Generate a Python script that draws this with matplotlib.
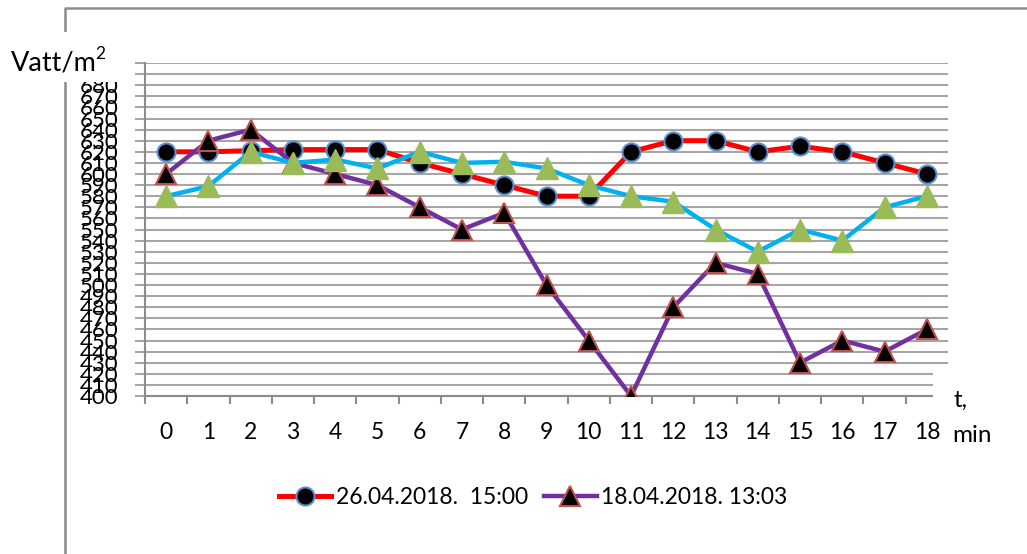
import matplotlib.pyplot as plt
from matplotlib.patches import Rectangle
from matplotlib.lines import Line2D

plt.rcParams['font.family'] = ['Lato', 'DejaVu Sans']

minutes = list(range(19))
# 26.04.2018. 15:00
red_vals = [620, 620, 621, 622, 622, 622, 610, 600, 590, 580, 580,
            620, 630, 630, 620, 625, 620, 610, 600]
# 18.04.2018. 13:03
purple_vals = [600, 630, 640, 610, 600, 590, 570, 550, 565, 500, 450,
               400, 480, 520, 510, 430, 450, 440, 460]
# third series (no legend entry)
cyan_vals = [580, 589, 620, 610, 613, 605, 620, 610, 611, 605, 590,
             580, 575, 550, 530, 550, 540, 570, 580]
y_ticks = list(range(400, 701, 10))

W, H = 1027, 554
fig = plt.figure(figsize=(W / 100, H / 100), dpi=100)
ax = fig.add_axes([145 / W, 158 / H, (948 - 145) / W, (396 - 63) / H])
ax.patch.set_alpha(0)

grey = '#8c8c8c'

ax.plot(minutes, red_vals, color='#ff0000', lw=3.6, marker='o', ms=13,
        mfc='black', mec='#5b8fd0', mew=1.5, label='26.04.2018.  15:00', zorder=3)
ax.plot(minutes, purple_vals, color='#7030a0', lw=3.2, marker='^', ms=15,
        mfc='black', mec='#c0504d', mew=1.5, label='18.04.2018. 13:03', zorder=4)
ax.plot(minutes, cyan_vals, color='#00b0f0', lw=3.2, marker='^', ms=16,
        mfc='#9bbb59', mec='#9bbb59', mew=1, zorder=5)

ax.set_xlim(-0.5, 18.5)
ax.set_ylim(400, 700)
ax.set_yticks(y_ticks)
ax.set_xticks(minutes)
ax.set_xticks([m - 0.5 for m in minutes] + [18.5], minor=True)
ax.grid(axis='y', color='#a6a6a6', lw=1.5, zorder=0)
ax.set_axisbelow(True)

for s in ['top', 'right']:
    ax.spines[s].set_visible(False)
for s in ['left', 'bottom']:
    ax.spines[s].set_color(grey)
    ax.spines[s].set_linewidth(1.5)

ax.tick_params(axis='x', which='major', length=0, labelsize=16.5, pad=19)
ax.tick_params(axis='x', which='minor', length=6, width=1.5, color=grey)
ax.tick_params(axis='y', length=7, width=1.5, color='#a6a6a6', labelsize=16, pad=12)

# chart border (only top and left visible)
fig.add_artist(Line2D([65 / W, 65 / W, 1], [0, 546 / H, 546 / H], color=grey,
                      lw=1.8, transform=fig.transFigure, zorder=1))

# white boxes behind the axis titles
fig.add_artist(Rectangle((0, (554 - 82) / H), 122 / W, 50 / H, transform=fig.transFigure,
                         facecolor='white', edgecolor='none', zorder=5))
fig.add_artist(Rectangle((933 / W, (554 - 410) / H), 94 / W, 46 / H,
                         transform=fig.transFigure, facecolor='white',
                         edgecolor='none', zorder=5))

fig.text(11 / W, (554 - 63) / H, 'Vatt/m', fontsize=19.5, va='center', ha='left', zorder=6)
fig.text(95 / W, (554 - 54) / H, '2', fontsize=12.5, va='center', ha='left', zorder=6)
fig.text(953 / W, (554 - 400) / H, 't,', fontsize=17.5, va='center', ha='left', zorder=6)
fig.text(952 / W, (554 - 436) / H, 'min', fontsize=17.5, va='center', ha='left', zorder=6)

fig.legend(loc='center', bbox_to_anchor=(533 / W, (554 - 498) / H), ncol=2,
           frameon=False, fontsize=16.5, handlelength=2.3, handletextpad=0.2,
           columnspacing=0.7, numpoints=1)

fig.savefig('out.png', dpi=100)
